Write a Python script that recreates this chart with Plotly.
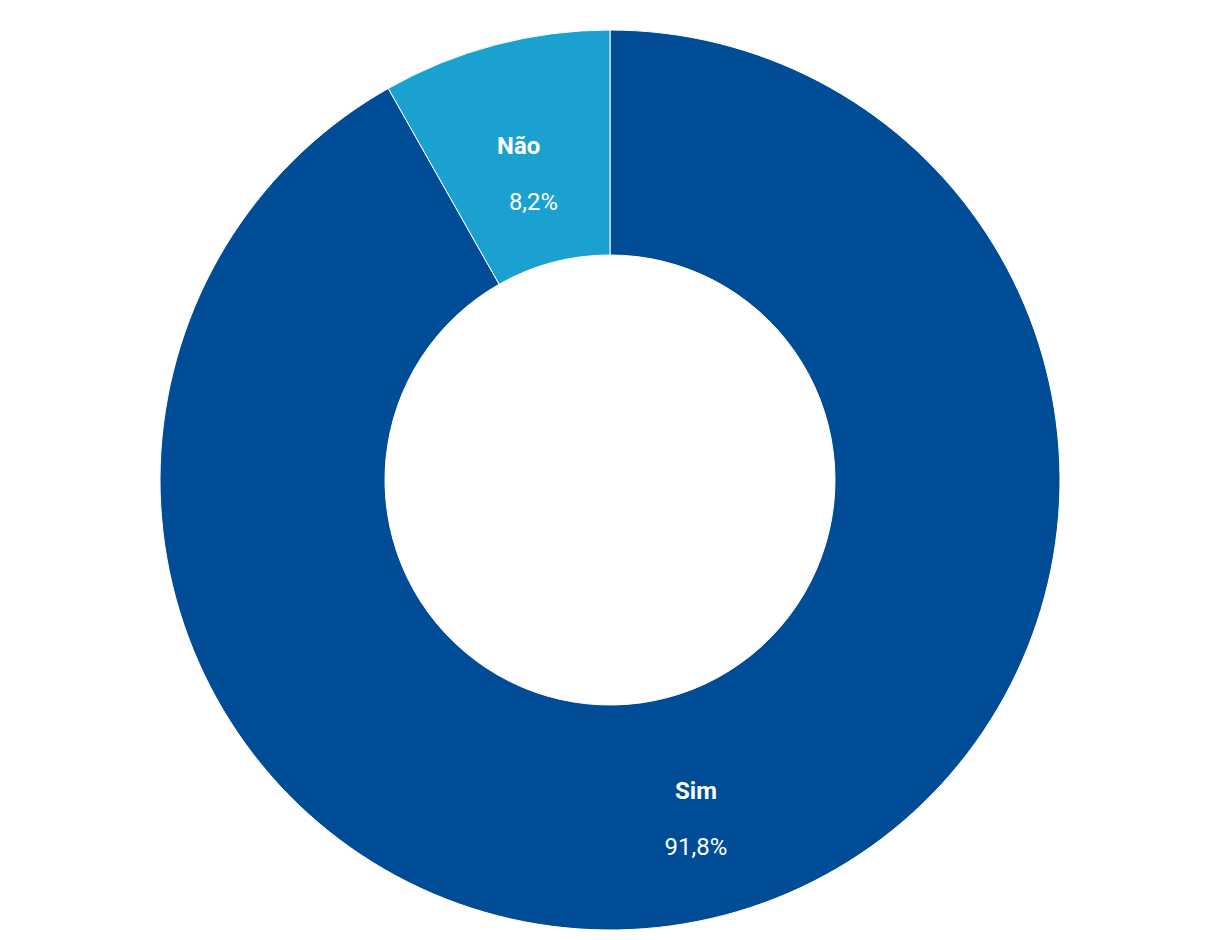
import plotly.graph_objects as go

labels = ["Sim", "Não"]
values = [91.8, 8.2]
colors = ["#004C97", "#1AA1CF"]
# blank lines above the label nudge each label block to its place in the slice
lead_lines = [1, 3]
# non-breaking spaces before the value nudge it sideways
value_pad = [0, 5]

templates = [
    "&nbsp;<br>" * n
    + "<span style='font-size:24px'><b>%{label}</b></span><br><br>"
    + "<span style='font-size:24px'>" + "&nbsp;" * p + "%{value:.1f}%</span>"
    for n, p in zip(lead_lines, value_pad)
]

fig = go.Figure(go.Pie(
    labels=labels,
    values=values,
    hole=0.5,
    sort=False,
    direction="clockwise",
    rotation=0,
    marker=dict(colors=colors, line=dict(color="#FFFFFF", width=1)),
    texttemplate=templates,
    textposition="inside",
    insidetextorientation="horizontal",
    textfont=dict(family="Roboto", size=21.5, color="#FFFFFF"),
    hoverinfo="label+percent",
    showlegend=False,
))

fig.update_layout(
    width=1204,
    height=924,
    margin=dict(l=0, r=0, t=22, b=2),
    paper_bgcolor="#FFFFFF",
    plot_bgcolor="#FFFFFF",
    separators=",.",
    font=dict(family="Roboto"),
)

fig.write_html("out.html")
